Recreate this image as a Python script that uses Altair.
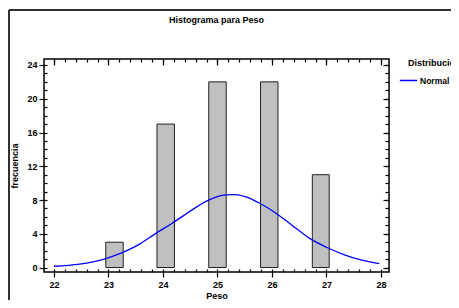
import altair as alt
import pandas as pd

# Histogram bars (class limits as drawn) and counts
bar_start = [22.95, 23.89, 24.84, 25.79, 26.74]
bar_end = [23.27, 24.21, 25.16, 26.11, 27.05]
counts = [3, 17, 22, 22, 11]

# Fitted normal curve
curve_x = [22.0, 22.47, 22.92, 23.23, 23.54, 23.87, 24.17, 24.48, 24.81, 25.15,
           25.33, 25.51, 25.75, 26.06, 26.36, 26.69, 27.0, 27.33, 27.63, 27.97]
curve_y = [0.15, 0.4, 1.0, 1.7, 2.65, 4.05, 5.25, 6.6, 7.9, 8.6,
           8.65, 8.4, 7.7, 6.5, 5.05, 3.45, 2.4, 1.5, 0.9, 0.45]

x_major = [22, 23, 24, 25, 26, 27, 28]
x_minor = [round(22 + 0.2 * i, 1) for i in range(31)]
y_major = [0, 4, 8, 12, 16, 20, 24]
y_minor = list(range(0, 25))

FONT = "Liberation Sans, Arial, sans-serif"

bars = pd.DataFrame({"x0": bar_start, "x1": bar_end, "n": counts})
curve = pd.DataFrame({"x": curve_x, "y": curve_y, "dist": ["Normal"] * len(curve_x)})

xs = alt.Scale(domain=[21.817, 28.147], nice=False, zero=False)
ys = alt.Scale(domain=[-0.53, 24.71], nice=False, zero=False)

frame_left = alt.Chart(bars).mark_rule(
    color="#303030", strokeWidth=1.5, clip=False
).encode(
    x=alt.value(-35), y=alt.value(-49), y2=alt.value(300)
)
frame_top = alt.Chart(bars).mark_rule(
    color="#303030", strokeWidth=1.5, clip=False
).encode(
    x=alt.value(-35), x2=alt.value(600), y=alt.value(-49)
)

bar_layer = alt.Chart(bars).mark_rect(
    fill="#c0c0c0", stroke="#202020", strokeWidth=1
).encode(
    x=alt.X("x0:Q", scale=xs, axis=alt.Axis(
        orient="bottom", values=x_major, tickSize=5, domain=False, grid=False,
        title="Peso", labelPadding=3, titlePadding=2, format="d")),
    x2="x1:Q",
    y=alt.Y("n:Q", scale=ys, axis=alt.Axis(
        orient="left", values=y_major, tickSize=5, domain=False, grid=False,
        title="frecuencia", labelPadding=2, titlePadding=7, format="d")),
    y2=alt.datum(0),
)

minor_layer = alt.Chart(bars).mark_rect(opacity=0).encode(
    x=alt.X("x0:Q", scale=xs, axis=alt.Axis(
        orient="bottom", values=x_minor, tickSize=3, offset=-3, domain=False,
        grid=False, labels=False, title=None)),
    y=alt.Y("n:Q", scale=ys, axis=alt.Axis(
        orient="left", values=y_minor, tickSize=3, offset=-3, domain=False,
        grid=False, labels=False, title=None)),
)

top_minor = alt.Chart(bars).mark_rect(opacity=0).encode(
    x=alt.X("x0:Q", scale=xs, axis=alt.Axis(
        orient="top", values=x_minor, tickSize=3, offset=-3, domain=False,
        grid=False, labels=False, title=None)),
    y=alt.Y("n:Q", scale=ys, axis=alt.Axis(
        orient="right", values=y_minor, tickSize=4, offset=-4, domain=False,
        grid=False, labels=False, title=None)),
)

top_major = alt.Chart(bars).mark_rect(opacity=0).encode(
    x=alt.X("x0:Q", scale=xs, axis=alt.Axis(
        orient="top", values=x_major, tickSize=6, offset=-6, domain=False,
        grid=False, labels=False, title=None)),
    y=alt.Y("n:Q", scale=ys, axis=alt.Axis(
        orient="right", values=y_major, tickSize=6, offset=-6, domain=False,
        grid=False, labels=False, title=None)),
)

curve_layer = alt.Chart(curve).mark_line(
    strokeWidth=1.3, interpolate="monotone"
).encode(
    x=alt.X("x:Q", scale=xs, axis=None),
    y=alt.Y("y:Q", scale=ys, axis=None),
    color=alt.Color("dist:N", scale=alt.Scale(domain=["Normal"], range=["#0000ff"]),
                    legend=alt.Legend(title="Distribución", orient="none",
                                      legendX=364, legendY=0, symbolType="stroke",
                                      symbolSize=300, symbolStrokeWidth=1.5,
                                      symbolOffset=-9, labelOffset=2,
                                      titleFontSize=9, labelFontSize=8.5,
                                      titleFont=FONT, labelFont=FONT,
                                      titleFontWeight="bold", labelFontWeight="bold",
                                      titleColor="#000", labelColor="#000",
                                      titleAlign="left", titlePadding=3)),
)

chart = alt.layer(
    frame_left, frame_top, bar_layer, minor_layer, top_minor, top_major, curve_layer
).resolve_axis(x="independent", y="independent").properties(
    width=345, height=213,
    title=alt.TitleParams("Histograma para Peso", anchor="middle", fontSize=9,
                          font=FONT, fontWeight="bold", color="#000", offset=-16),
    autosize=alt.AutoSizeParams(type="none"),
    padding={"left": 36, "top": 51, "right": 62, "bottom": 28},
).configure_view(
    stroke="#000", strokeWidth=1.5
).configure_axis(
    labelFont=FONT, titleFont=FONT, labelFontSize=9, titleFontSize=9,
    labelFontWeight="bold", titleFontWeight="bold",
    labelColor="#000", titleColor="#000", tickColor="#000", tickWidth=1.2,
)

chart.save("out.html", embed_options={"renderer": "svg", "actions": False})
